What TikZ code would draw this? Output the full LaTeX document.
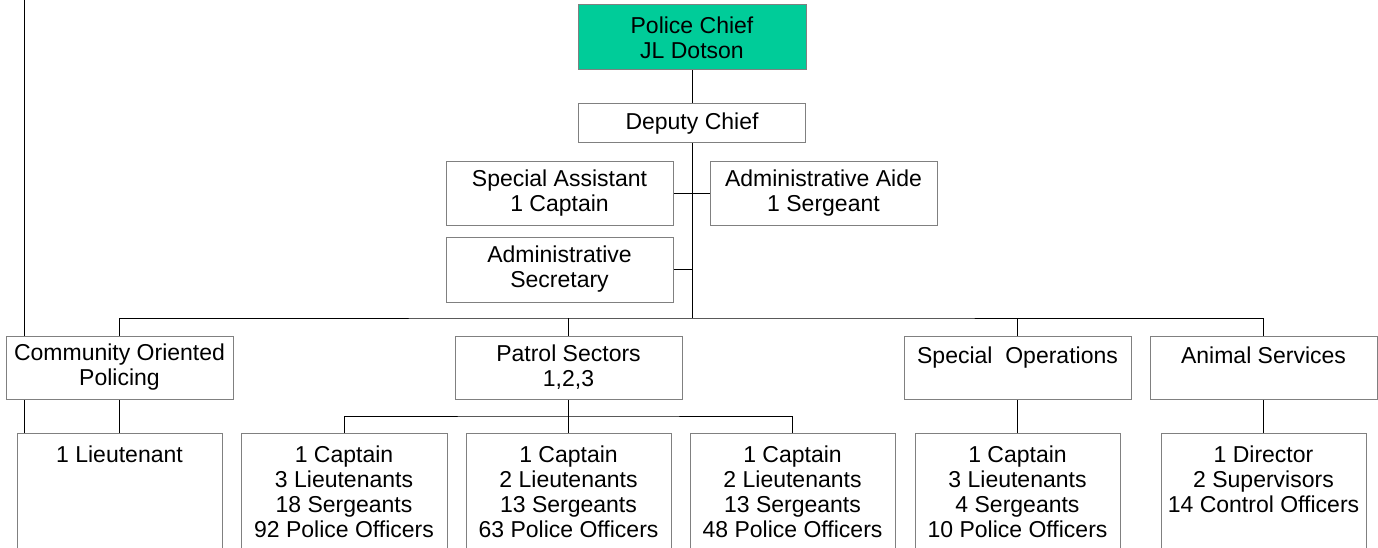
\documentclass[tikz,border=0pt]{standalone}
\usepackage{fontspec}
\setmainfont{Liberation Sans}
\usetikzlibrary{calc,backgrounds}

\definecolor{chiefgreen}{RGB}{0,204,153}
\definecolor{boxgray}{RGB}{128,128,128}

\tikzset{
  box/.style={draw=boxgray, line width=1pt, fill=white, align=center, inner sep=0pt,
    font=\fontsize{23}{25}\selectfont, minimum width=227, minimum height=63},
  staff/.style={box, minimum width=205, minimum height=117},
  link/.style={line width=1.6pt}
}

\begin{document}
\begin{tikzpicture}[x=1pt,y=-1pt]
  \clip (0,0) rectangle (1378,548);

  % chief and office staff
  \node[box, fill=chiefgreen, minimum width=228, minimum height=65] (chief) at (692,37.5) {Police Chief\\JL Dotson};
  \node[box, minimum height=39] (deputy) at (692,123.5) {Deputy Chief};
  \node[box] (asst) at (559.5,193.5) {Special Assistant\\1 Captain};
  \node[box] (aide) at (823.5,193.5) {Administrative Aide\\1 Sergeant};
  \node[box, minimum height=65] (secy) at (559.5,269.5) {Administrative\\Secretary};

  % divisions
  \node[box] (cop) at (119.5,367.5) {Community Oriented\\Policing};
  \node[box] (patrol) at (568.5,367.5) {Patrol Sectors\\1,2,3};
  \node[box] (specops) at (1017.5,367.5) {Special\ \ Operations\\~};
  \node[box] (animal) at (1263.5,367.5) {Animal Services\\~};

  % personnel
  \node[staff] (lieut) at (119.5,491.5) {1 Lieutenant\\~\\~\\~};
  \node[staff, minimum width=206] (sec1) at (344,491.5) {1 Captain\\3 Lieutenants\\18 Sergeants\\92 Police Officers};
  \node[staff] (sec2) at (568.5,491.5) {1 Captain\\2 Lieutenants\\13 Sergeants\\63 Police Officers};
  \node[staff] (sec3) at (792.5,491.5) {1 Captain\\2 Lieutenants\\13 Sergeants\\48 Police Officers};
  \node[staff] (sostaff) at (1017.5,491.5) {1 Captain\\3 Lieutenants\\4 Sergeants\\10 Police Officers};
  \node[staff] (asstaff) at (1263.5,491.5) {1 Director\\2 Supervisors\\14 Control Officers\\~};

  \coordinate (bus) at (692,318);
  \coordinate (edge) at (24,0);

  \begin{scope}[on background layer, link]
    \draw (chief.south) -- (deputy.north);
    \draw (deputy.south) -- (bus);
    \draw (asst.east) -- (aide.west);
    \draw (secy.east) -- (secy.east -| bus);
    \draw (cop.north) |- (bus) -| (animal.north);
    \draw (patrol.north) -- (patrol.north |- bus);
    \draw (specops.north) -- (specops.north |- bus);
    \draw (edge) -- (edge |- lieut.north);
    \draw (cop.south) -- (lieut.north);
    \draw (patrol.south) -- (sec2.north);
    \draw (sec1.north) |- ($(patrol.south)!.5!(sec2.north)$) -| (sec3.north);
    \draw (specops.south) -- (sostaff.north);
    \draw (animal.south) -- (asstaff.north);
  \end{scope}
\end{tikzpicture}
\end{document}
